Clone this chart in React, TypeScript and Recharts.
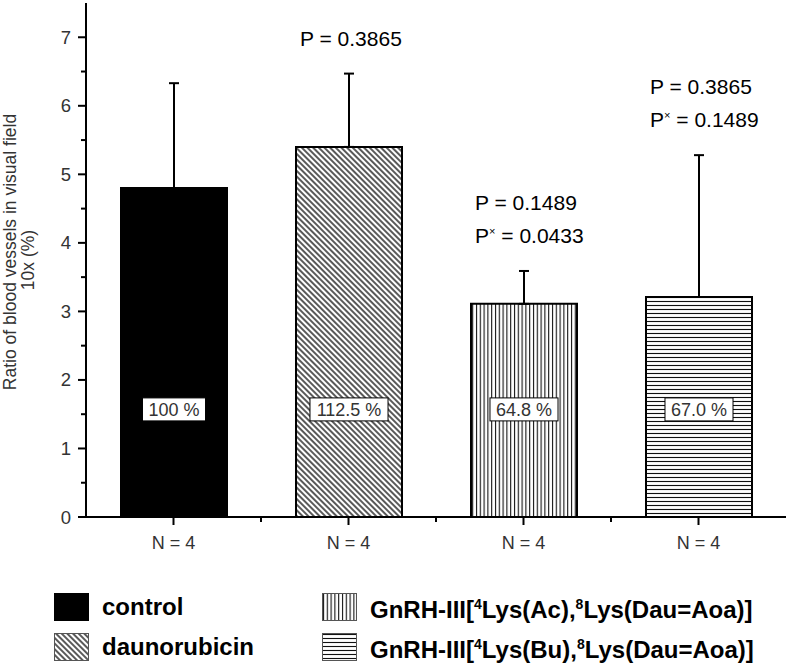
import { BarChart, Bar, XAxis, YAxis, ErrorBar, Cell, LabelList } from 'recharts'

// values
const groups = [
  'control',
  'daunorubicin',
  'GnRH-III[4Lys(Ac),8Lys(Dau=Aoa)]',
  'GnRH-III[4Lys(Bu),8Lys(Dau=Aoa)]',
]
const means = [4.8, 5.4, 3.11, 3.21]
const sds = [1.53, 1.07, 0.48, 2.07]
const nValues = [4, 4, 4, 4]
const relative = ['100 %', '112.5 %', '64.8 %', '67.0 %']
const pValues = [null, '0.3865', '0.1489', '0.3865']
const pxValues = [null, null, '0.0433', '0.1489']
const yTicks = [0, 0.5, 1, 1.5, 2, 2.5, 3, 3.5, 4, 4.5, 5, 5.5, 6, 6.5, 7]

const fills = ['#000', 'url(#hatch-diag)', 'url(#hatch-vert)', 'url(#hatch-horz)']

const FONT = '"Liberation Sans", Arial, sans-serif'
const CHART_W = 788
const CHART_H = 560
const MARGIN = { top: 3, right: 2, bottom: 3, left: 0 }
const Y_AXIS_W = 86
const X_AXIS_H = 40
const PLOT_LEFT = MARGIN.left + Y_AXIS_W
const PLOT_BOTTOM = CHART_H - MARGIN.bottom - X_AXIS_H
const BAND = (CHART_W - MARGIN.right - PLOT_LEFT) / groups.length
const LABEL_LEVEL = 1.57 // where the % boxes sit, in axis units

const rows = groups.map((name, i) => ({
  name,
  value: means[i],
  err: [0, sds[i]],
}))

const charW: Record<string, number> = { '.': 0.278, ' ': 0.278, '%': 0.889 }
const textWidth = (s: string, size: number) =>
  s.split('').reduce((w, c) => w + (charW[c] ?? 0.556), 0) * size

function Patterns() {
  return (
    <defs>
      <pattern id="hatch-diag" width={4} height={4} patternUnits="userSpaceOnUse" patternTransform="rotate(-45)">
        <rect width={4} height={4} fill="#fff" />
        <line x1={1} y1={0} x2={1} y2={4} stroke="#222" strokeWidth={1.5} />
      </pattern>
      <pattern id="hatch-vert" width={3.8} height={4} patternUnits="userSpaceOnUse">
        <rect width={3.8} height={4} fill="#fff" />
        <line x1={1.5} y1={0} x2={1.5} y2={4} stroke="#111" strokeWidth={1.1} />
      </pattern>
      <pattern id="hatch-horz" width={4} height={4} patternUnits="userSpaceOnUse">
        <rect width={4} height={4} fill="#fff" />
        <line x1={0} y1={1.5} x2={4} y2={1.5} stroke="#111" strokeWidth={1.1} />
      </pattern>
    </defs>
  )
}

function YTick(props: any) {
  const { y, payload } = props
  const v = payload.value
  const major = Number.isInteger(v)
  return (
    <g>
      <line x1={PLOT_LEFT - (major ? 8 : 5)} x2={PLOT_LEFT} y1={y} y2={y} stroke="#000" strokeWidth={2} />
      {major && (
        <text x={PLOT_LEFT - 15} y={y + 6.5} textAnchor="end" fontSize={18.5} fontFamily={FONT} fill="#333">
          {v}
        </text>
      )}
    </g>
  )
}

function XTick(props: any) {
  const { x, payload } = props
  const i = groups.indexOf(payload.value)
  return (
    <g>
      <line x1={x} x2={x} y1={PLOT_BOTTOM} y2={PLOT_BOTTOM + 8} stroke="#000" strokeWidth={2} />
      {i < groups.length - 1 && (
        <line x1={x + BAND / 2} x2={x + BAND / 2} y1={PLOT_BOTTOM} y2={PLOT_BOTTOM + 5} stroke="#000" strokeWidth={2} />
      )}
      <text x={x} y={PLOT_BOTTOM + 32} textAnchor="middle" fontSize={18} fontFamily={FONT} fill="#333">
        N = {nValues[i]}
      </text>
    </g>
  )
}

function barBox(props: any) {
  const vb = props.viewBox ?? props
  const top = Math.min(vb.y, vb.y + vb.height)
  const h = Math.abs(vb.height)
  return { x: vb.x, w: vb.width, top, base: top + h, h }
}

function PctLabel(props: any) {
  const i = props.index
  const b = barBox(props)
  const cy = b.base - (LABEL_LEVEL * b.h) / means[i]
  const cx = b.x + b.w / 2
  const text = relative[i]
  const w = textWidth(text, 18) + 12
  return (
    <g>
      <rect x={cx - w / 2} y={cy - 11.5} width={w} height={23} fill="#fff" stroke="#000" strokeWidth={1} />
      <text x={cx} y={cy + 6.5} textAnchor="middle" fontSize={18} fontFamily={FONT} fill="#333">
        {text}
      </text>
    </g>
  )
}

function PLabel(props: any) {
  const i = props.index
  if (!pValues[i]) return null
  const b = barBox(props)
  const errTop = b.top - (sds[i] * b.h) / means[i]
  const lines: { sup: boolean; val: string }[] = [{ sup: false, val: pValues[i] as string }]
  if (pxValues[i]) lines.push({ sup: true, val: pxValues[i] as string })
  const x0 = b.x + 4
  return (
    <g>
      {lines.map((ln, k) => {
        const cy = errTop - 35 - (lines.length - 1 - k) * 33
        return (
          <text key={k} x={x0} y={cy + 7} fontSize={21} fontFamily={FONT} fill="#000">
            <tspan>P</tspan>
            {ln.sup && (
              <tspan fontSize={11} dy={-8}>
                ×
              </tspan>
            )}
            <tspan dy={ln.sup ? 8 : 0}> = {ln.val}</tspan>
          </text>
        )
      })}
    </g>
  )
}

function YLabel(props: any) {
  const vb = props.viewBox
  const cy = vb.y + vb.height / 2
  return (
    <g fontFamily={FONT} fontSize={17.5} fill="#333">
      <text x={16} y={cy - 8} textAnchor="middle" transform={`rotate(-90, 16, ${cy - 8})`}>
        Ratio of blood vessels in visual field
      </text>
      <text x={34} y={cy} textAnchor="middle" transform={`rotate(-90, 34, ${cy})`}>
        10x (%)
      </text>
    </g>
  )
}

function LegendName({ name }: { name: string }) {
  const m = name.match(/^(GnRH-III\[)(\d)(Lys\(\w+\),)(\d)(.*)$/)
  if (!m) return <>{name}</>
  return (
    <>
      {m[1]}
      <sup style={{ fontSize: 14 }}>{m[2]}</sup>
      {m[3]}
      <sup style={{ fontSize: 14 }}>{m[4]}</sup>
      {m[5]}
    </>
  )
}

const legendPos = [
  { left: 54, top: 593 },
  { left: 54, top: 633 },
  { left: 322, top: 593 },
  { left: 322, top: 633 },
]

export default function App() {
  return (
    <div style={{ position: 'absolute', left: 0, top: 0, width: 788, height: 666, background: '#fff', fontFamily: FONT }}>
      <BarChart width={CHART_W} height={CHART_H} data={rows} margin={MARGIN}>
        <Patterns />
        <XAxis
          dataKey="name"
          height={X_AXIS_H}
          interval={0}
          axisLine={{ stroke: '#000', strokeWidth: 2 }}
          tickLine={false}
          tick={XTick}
        />
        <YAxis
          type="number"
          width={Y_AXIS_W}
          domain={[0, 7.5]}
          ticks={yTicks}
          interval={0}
          allowDataOverflow
          axisLine={{ stroke: '#000', strokeWidth: 2 }}
          tickLine={false}
          tick={YTick}
          label={{ content: YLabel }}
        />
        <Bar dataKey="value" barSize={106} stroke="#000" strokeWidth={2} isAnimationActive={false}>
          {groups.map((g, i) => (
            <Cell key={g} fill={fills[i]} />
          ))}
          <ErrorBar dataKey="err" direction="y" width={5} stroke="#000" strokeWidth={2} isAnimationActive={false} />
          <LabelList dataKey="name" content={PctLabel} />
          <LabelList dataKey="name" content={PLabel} />
        </Bar>
      </BarChart>
      {groups.map((g, i) => (
        <div key={g} style={{ position: 'absolute', left: legendPos[i].left, top: legendPos[i].top, height: 28, display: 'flex', alignItems: 'center' }}>
          <svg width={35} height={28} style={{ display: 'block' }}>
            <rect x={0.5} y={0.5} width={34} height={27} fill={fills[i]} stroke={i === 0 ? '#000' : '#555'} strokeWidth={1} />
          </svg>
          <span style={{ marginLeft: 13, fontSize: 24, fontWeight: 'bold', color: '#000', whiteSpace: 'nowrap', lineHeight: '28px' }}>
            <LegendName name={g} />
          </span>
        </div>
      ))}
    </div>
  )
}
